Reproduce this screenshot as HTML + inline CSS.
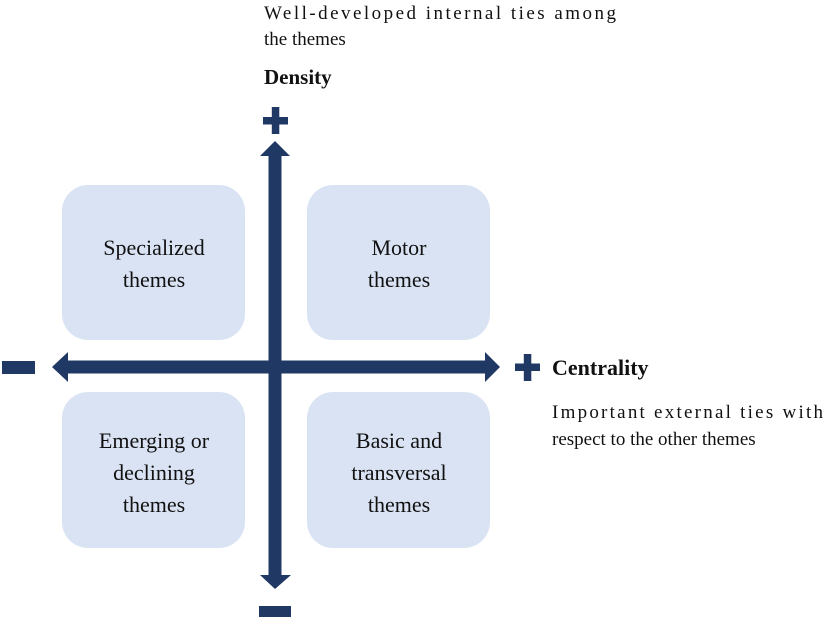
<!DOCTYPE html>
<html><head><meta charset="utf-8"><style>
html,body{margin:0;padding:0;background:#fff;}
svg{display:block;}
text{font-family:"Liberation Serif",serif;fill:#111;}
</style></head><body>
<svg width="825" height="622" viewBox="0 0 825 622" xmlns="http://www.w3.org/2000/svg">
<g fill="#dae3f3">
<rect x="62" y="185" width="183" height="155" rx="26"/>
<rect x="307" y="185" width="183" height="155" rx="26"/>
<rect x="62" y="392" width="183" height="156" rx="26"/>
<rect x="307" y="392" width="183" height="156" rx="26"/>
</g>
<g fill="#1f3864">
<rect x="268.5" y="154" width="13" height="424"/>
<polygon points="275,141 260,156 290,156"/>
<polygon points="275,589 260,575 291,575"/>
<rect x="66" y="360.5" width="420" height="13"/>
<polygon points="52,367 68,352 68,382"/>
<polygon points="500,367 485,352 485,382"/>
<rect x="263" y="117" width="25" height="7.5"/>
<rect x="271.8" y="107" width="7.5" height="27"/>
<rect x="515" y="363.5" width="25" height="7.5"/>
<rect x="523.8" y="354" width="7.5" height="27"/>
<rect x="2" y="361" width="33" height="13"/>
<rect x="259" y="606" width="32" height="11"/>
</g>
<g font-size="22" text-anchor="middle">
<text x="154" y="255">Specialized</text>
<text x="154" y="287">themes</text>
<text x="399" y="255">Motor</text>
<text x="399" y="287">themes</text>
<text x="154" y="448">Emerging  or</text>
<text x="154" y="480">declining</text>
<text x="154" y="512">themes</text>
<text x="399" y="448">Basic  and</text>
<text x="399" y="480">transversal</text>
<text x="399" y="512">themes</text>
</g>
<text x="264" y="19" font-size="19" textLength="352" lengthAdjust="spacing">Well-developed internal ties among</text>
<text x="264" y="45" font-size="19">the themes</text>
<text x="264" y="84" font-size="21" font-weight="bold">Density</text>
<text x="552" y="375" font-size="22" font-weight="bold">Centrality</text>
<text x="552" y="418" font-size="19" textLength="271" lengthAdjust="spacing">Important external ties with</text>
<text x="552" y="445" font-size="19">respect to the other themes</text>
</svg>
</body></html>
